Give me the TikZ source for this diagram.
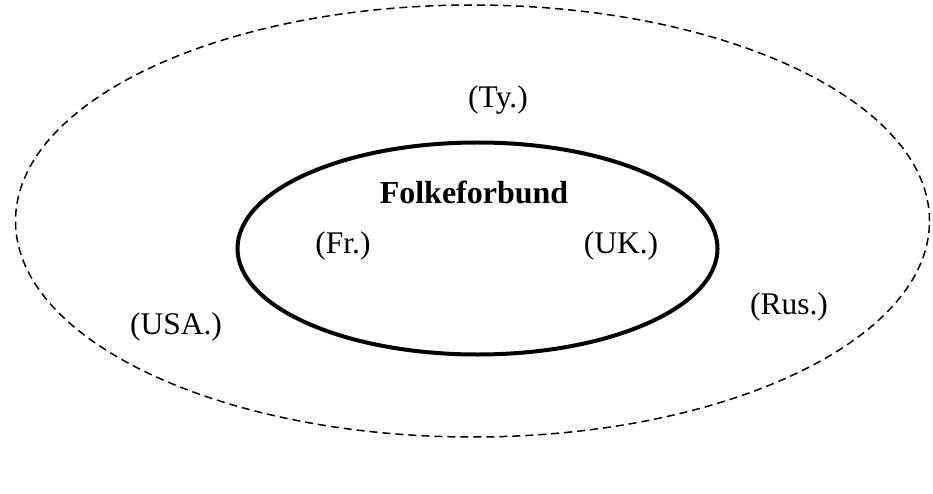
\documentclass[tikz,border=0pt]{standalone}
\usepackage{fontspec}
\setmainfont{Liberation Serif}
\usetikzlibrary{shapes.geometric}
\begin{document}
\begin{tikzpicture}[x=1pt,y=-1pt,
  lbl/.style={inner sep=0pt,font=\fontsize{31.5}{36}\selectfont},
  outerring/.style={draw,ellipse,dash pattern=on 8pt off 5pt,line width=1.5pt},
  innerring/.style={draw,ellipse,line width=4pt}]
\useasboundingbox (0,0) rectangle (933,494);
\node[outerring,minimum width=914pt,minimum height=432pt] (outer) at (472.5,221) {};
\node[innerring,minimum width=480pt,minimum height=212pt] (inner) at (477.5,248.5) {};
\node[lbl] (ty) at (498,100) {(Ty.)};
\node[lbl,font=\fontsize{32}{36}\selectfont\bfseries] (fb) at (474,192) {Folkeforbund};
\node[lbl] (fr) at (343,246) {(Fr.)};
\node[lbl] (uk) at (621,246) {(UK.)};
\node[lbl] (usa) at (176,327) {(USA.)};
\node[lbl] (rus) at (789,307) {(Rus.)};
\end{tikzpicture}
\end{document}
